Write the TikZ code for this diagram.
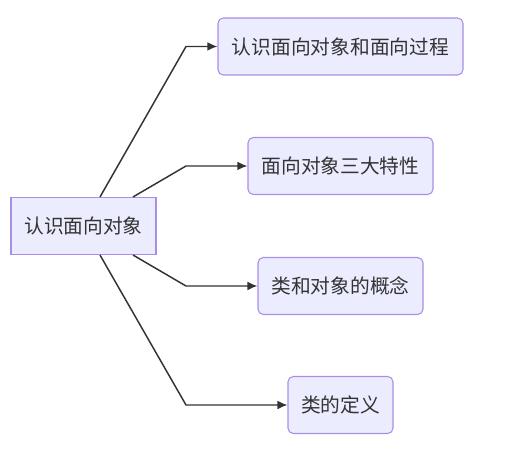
\documentclass[tikz,border=0pt]{standalone}
\usepackage{fontspec}
\newfontfamily\cjk{Noto Sans CJK SC}
\usetikzlibrary{arrows.meta,calc}
\definecolor{boxfill}{HTML}{ECECFF}
\definecolor{boxline}{HTML}{A98EE6}
\definecolor{ink}{HTML}{333333}
\tikzset{
  topic/.style={draw=boxline,fill=boxfill,line width=0.8pt,text=ink,
    minimum height=42.75pt,inner xsep=4pt,font=\cjk\fontsize{14.8}{16}\selectfont},
  sub/.style={topic,rounded corners=4pt},
  link/.style={-{Latex[length=7.5pt,width=6.5pt]},draw=ink,line width=1.1pt}
}
\begin{document}
\begin{tikzpicture}[x=0.75pt,y=-0.75pt]
  \useasboundingbox (0,0) rectangle (510,466);
  % root and the four branches
  \node[topic,minimum width=108.75pt] (root) at (83.5,226) {认识面向对象};
  \node[sub,minimum width=183.75pt] (c1) at (340.5,46.5) {认识面向对象和面向过程};
  \node[sub,minimum width=138.75pt] (c2) at (340.5,166) {面向对象三大特性};
  \node[sub,minimum width=123.75pt] (c3) at (340.5,286) {类和对象的概念};
  \node[sub,minimum width=78.75pt] (c4) at (340.5,405) {类的定义};
  \coordinate (bend) at (186,0);
  \draw[link] ($(root.north)+(16.5,0)$) -- (bend |- c1.west) -- (c1.west);
  \draw[link] ($(root.north)+(49.5,0)$) -- (bend |- c2.west) -- (c2.west);
  \draw[link] ($(root.south)+(49.5,0)$) -- (bend |- c3.west) -- (c3.west);
  \draw[link] ($(root.south)+(16.5,0)$) -- (bend |- c4.west) -- (c4.west);
\end{tikzpicture}
\end{document}
